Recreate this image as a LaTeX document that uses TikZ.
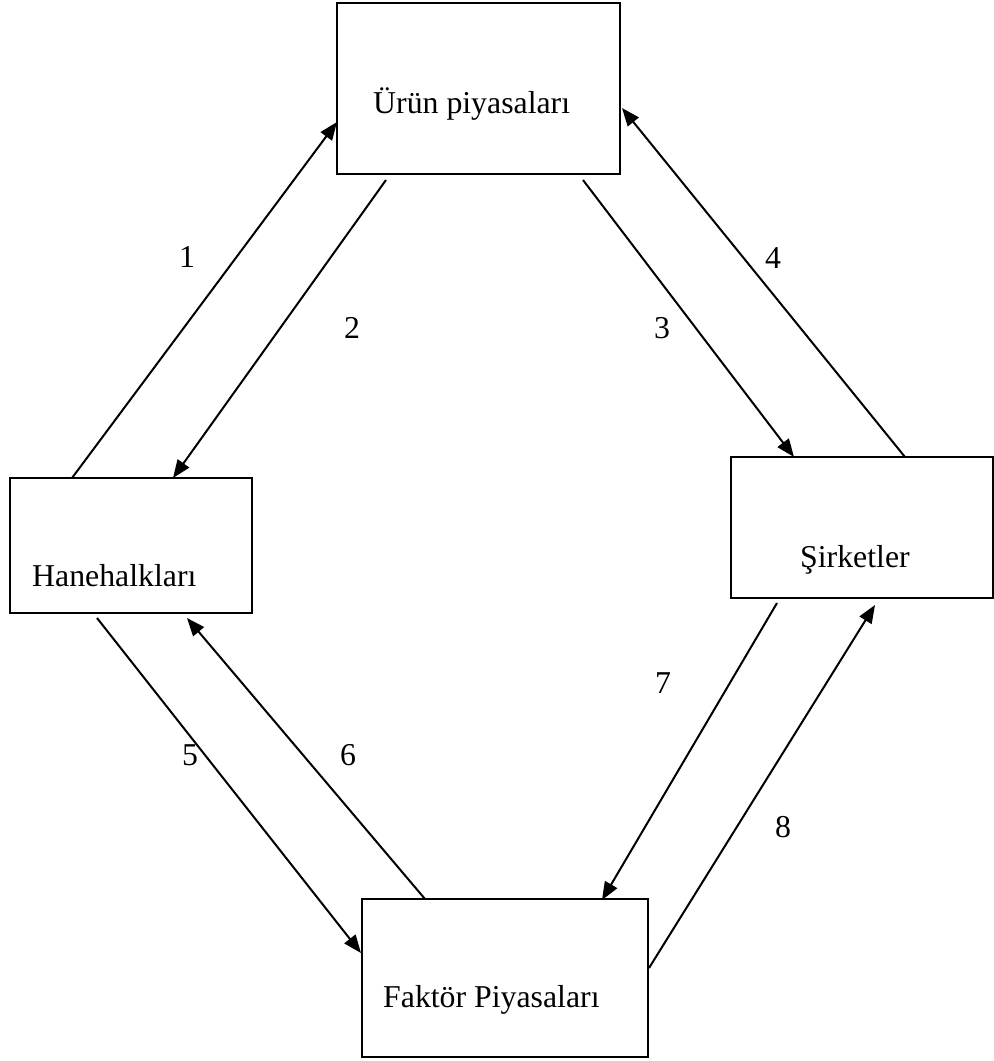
\documentclass[tikz,border=0pt]{standalone}
\usepackage{fontspec}
\setmainfont{Liberation Serif}
\usetikzlibrary{arrows.meta}
\begin{document}
\begin{tikzpicture}[x=1pt,y=-1pt,
  box/.style={draw=black, line width=1.8pt, rectangle, inner sep=0pt, fill=none},
  txt/.style={anchor=base west, inner sep=0pt, font=\fontsize{31.8}{38}\selectfont},
  num/.style={anchor=center, inner sep=0pt, font=\fontsize{31.8}{38}\selectfont},
  flow/.style={line width=2pt, -{Triangle[length=18pt,width=14pt]}}
]
\useasboundingbox (0,0) rectangle (994,1061);
% boxes
\node[box, minimum width=283pt, minimum height=171pt] (urun) at (478.5,88.5) {};
\node[box, minimum width=242pt, minimum height=135pt] (hane) at (131,545.5) {};
\node[box, minimum width=262pt, minimum height=141pt] (sirk) at (862,527.5) {};
\node[box, minimum width=286pt, minimum height=158pt] (fakt) at (505,978) {};
% box texts
\node[txt] (turun) at (373,113) {Ürün piyasaları};
\node[txt] (thane) at (32,586) {Hanehalkları};
\node[txt] (tsirk) at (800,567) {Şirketler};
\node[txt] (tfakt) at (383,1007) {Faktör Piyasaları};
% connector end points
\coordinate (a1s) at (72,478);   \coordinate (a1e) at (337,122);
\coordinate (a2s) at (386,180);  \coordinate (a2e) at (173,478);
\coordinate (a3s) at (583,180);  \coordinate (a3e) at (794,457);
\coordinate (a4s) at (905,457);  \coordinate (a4e) at (622,108);
\coordinate (a5s) at (97,618);   \coordinate (a5e) at (361,953);
\coordinate (a6s) at (425,899);  \coordinate (a6e) at (187,618);
\coordinate (a7s) at (777,603);  \coordinate (a7e) at (602,900);
\coordinate (a8s) at (649,968);  \coordinate (a8e) at (875,605);
% connectors
\draw[flow] (a1s) -- (a1e);
\draw[flow] (a2s) -- (a2e);
\draw[flow] (a3s) -- (a3e);
\draw[flow] (a4s) -- (a4e);
\draw[flow] (a5s) -- (a5e);
\draw[flow] (a6s) -- (a6e);
\draw[flow] (a7s) -- (a7e);
\draw[flow] (a8s) -- (a8e);
% labels
\node[num] (n1) at (187,257) {1};
\node[num] (n2) at (352,328) {2};
\node[num] (n3) at (662,328) {3};
\node[num] (n4) at (773,258) {4};
\node[num] (n5) at (190,755) {5};
\node[num] (n6) at (348,755) {6};
\node[num] (n7) at (663,683) {7};
\node[num] (n8) at (783,827) {8};
\end{tikzpicture}
\end{document}
